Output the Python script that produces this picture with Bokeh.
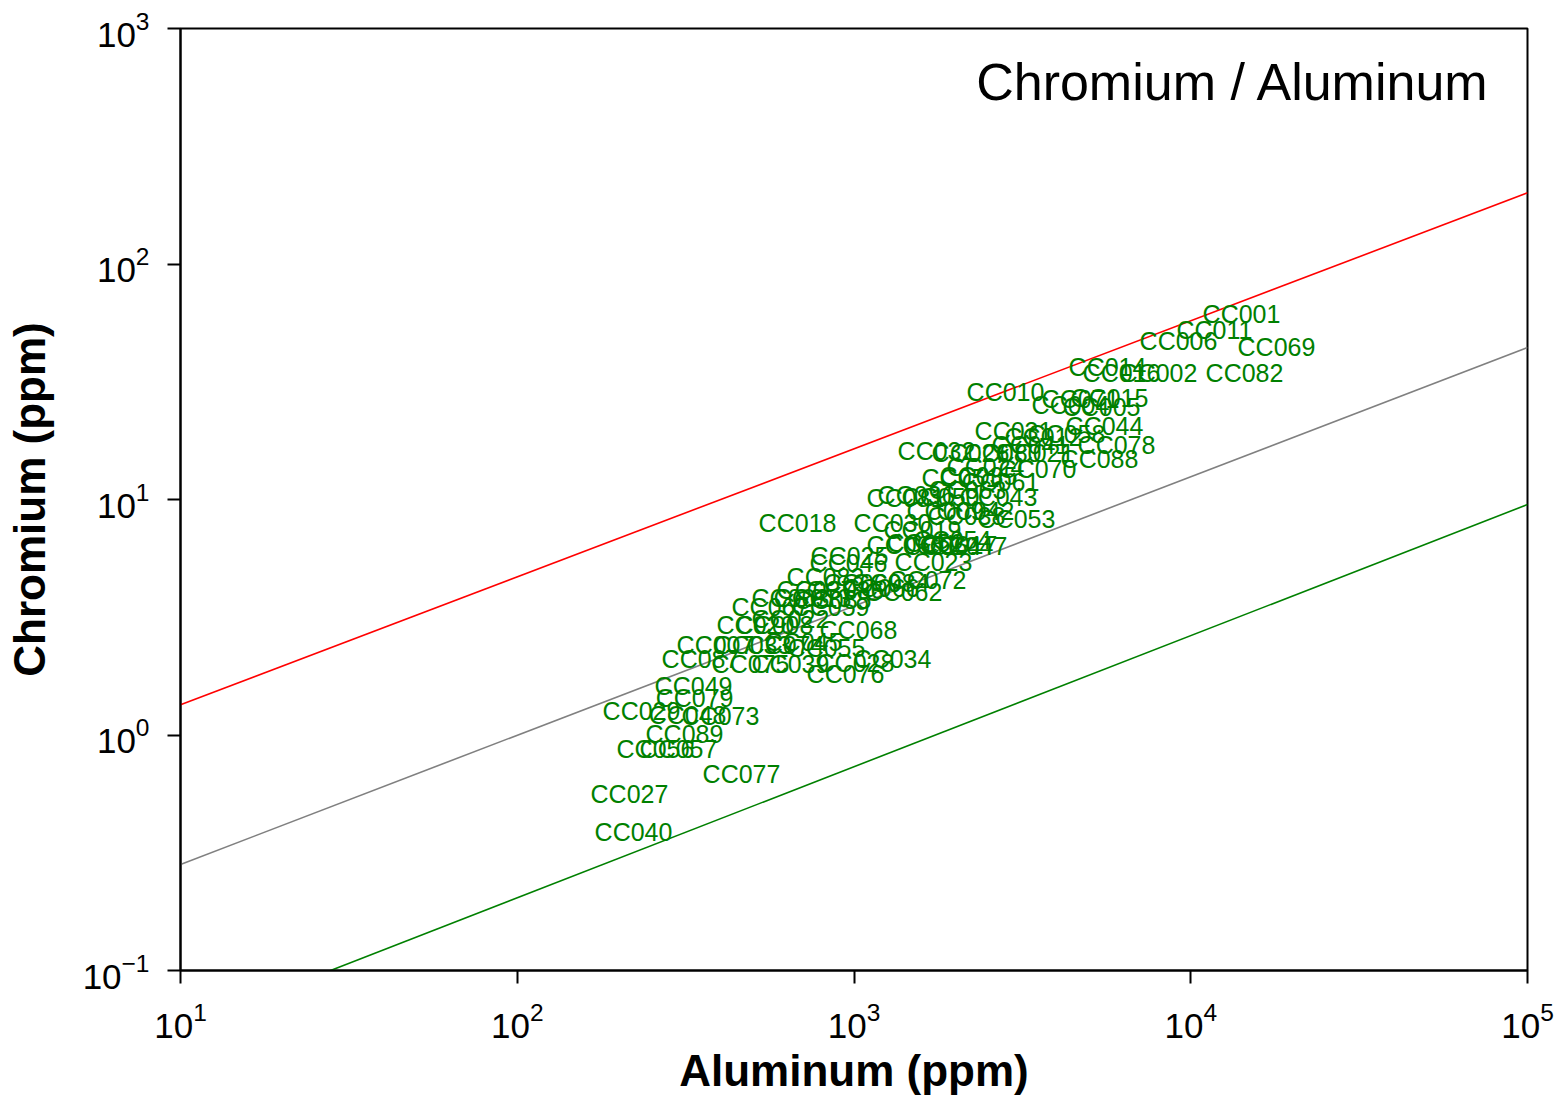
from bokeh.plotting import figure
from bokeh.models import ColumnDataSource, FixedTicker, LogTickFormatter, Label
from bokeh.embed import file_html
from bokeh.resources import INLINE
from bokeh.core.properties import value

# ---- data ----
SAMPLES = [
    "CC001", "CC011", "CC006", "CC069", "CC014", "CC016", "CC002", "CC082",
    "CC010", "CC015", "CC005", "CC004", "CC071", "CC044", "CC031", "CC012",
    "CC058", "CC078", "CC088", "CC032", "CC026", "CC080", "CC021", "CC070",
    "CC024", "CC061", "CC035", "CC036", "CC050", "CC043", "CC063", "CC018",
    "CC030", "CC019", "CC038", "CC053", "CC042", "CC009", "CC052", "CC064",
    "CC017", "CC047", "CC054", "CC025", "CC046", "CC023", "CC083", "CC060",
    "CC084", "CC072", "CC062", "CC066", "CC003", "CC013", "CC085", "CC059",
    "CC086", "CC020", "CC008", "CC022", "CC068", "CC007", "CC033", "CC074",
    "CC045", "CC055", "CC087", "CC075", "CC039", "CC028", "CC034", "CC076",
    "CC049", "CC079", "CC029", "CC048", "CC073", "CC089", "CC056", "CC057",
    "CC077", "CC027", "CC040", "CC037", "CC041", "CC067", "CC051", "CC065",
    "CC081",
]
ALUMINUM = [
    14150, 11760, 9196, 17970, 5659, 6229, 8021, 14440,
    2818, 5737, 5433, 4394, 4706, 5545, 2976, 3653,
    4276, 6019, 5358, 1758, 2218, 2761, 3459, 3507,
    2458, 2723, 2343, 1533, 1807, 2686, 2173, 679.7,
    1301, 1597, 2158, 3037, 2295, 1869, 1630, 1831,
    2043, 2188, 1961, 969.6, 963, 1722, 823, 1060,
    1284, 1653, 1403, 1199, 647.6, 753, 863.7, 851.9,
    943.6, 509.8, 580.5, 647.6, 1031, 387.9, 499.5, 626.0,
    707.9, 828.6, 350.1, 492.8, 647.6, 1010, 1301, 943.6,
    333.8, 336.1, 233.9, 320.4, 401.4, 313.7, 257.3, 301.2,
    463.4, 215.4, 221.4, 768.7, 3343, 564.9, 2071, 1422,
    1422,
]
CHROMIUM = [
    61.6, 52.2, 47.3, 44.6, 36.7, 34.6, 34.6, 34.6,
    28.7, 27.1, 24.8, 25.1, 26.6, 20.6, 19.6, 18.5,
    18.9, 16.96, 14.9, 16.0, 15.8, 15.8, 15.8, 13.5,
    13.8, 11.9, 12.6, 10.5, 10.2, 10.2, 11.0, 7.91,
    7.91, 7.39, 8.47, 8.23, 8.98, 8.98, 6.51, 6.32,
    6.44, 6.32, 6.76, 5.73, 5.35, 5.45, 4.67, 4.44,
    4.44, 4.53, 4.03, 4.19, 3.80, 3.80, 3.73, 3.51,
    4.11, 2.92, 2.92, 3.12, 2.78, 2.42, 2.40, 2.40,
    2.49, 2.35, 2.11, 2.01, 2.01, 2.03, 2.11, 1.82,
    1.61, 1.44, 1.27, 1.22, 1.21, 1.005, 0.868, 0.868,
    0.680, 0.559, 0.389, 4.11, 16.96, 3.51, 12.3, 6.38,
    10.1,
]

X_RANGE = (10, 1e5)
Y_RANGE = (0.1, 1e3)
X_TICKS = [10, 100, 1000, 10000, 100000]
Y_TICKS = [0.1, 1, 10, 100, 1000]

# reference lines
LINE_AL = [10, 1e5]
RED_CR = [1.343, 200.6]
GRAY_CR = [0.282, 44.2]
GREEN_AL = [27.9, 1e5]
GREEN_CR = [0.1, 9.52]

TITLE = "Chromium / Aluminum"
X_LABEL = "Aluminum (ppm)"
Y_LABEL = "Chromium (ppm)"

FONT = "Liberation Sans"

p = figure(
    x_axis_type="log", y_axis_type="log",
    x_range=X_RANGE, y_range=Y_RANGE,
    frame_width=1347, frame_height=942,
    min_border_left=180, min_border_right=36,
    min_border_top=28, min_border_bottom=127,
    output_backend="svg", toolbar_location=None,
    background_fill_color="white", border_fill_color="white",
)
p.xgrid.visible = False
p.ygrid.visible = False
p.outline_line_color = "black"
p.outline_line_width = 2
p.outline_line_alpha = 1.0

for ax, ticks in ((p.xaxis[0], X_TICKS), (p.yaxis[0], Y_TICKS)):
    ax.ticker = FixedTicker(ticks=ticks)
    ax.formatter = LogTickFormatter()
    ax.axis_line_color = "black"
    ax.axis_line_width = 2
    ax.major_tick_line_color = "black"
    ax.major_tick_line_width = 2
    ax.major_tick_out = 13
    ax.major_tick_in = 0
    ax.minor_tick_line_color = None
    ax.major_label_text_font = FONT
    ax.major_label_text_font_size = "35px"
    ax.major_label_text_color = "black"
    ax.major_label_standoff = 18
    ax.axis_label_text_font = FONT
    ax.axis_label_text_font_size = "44px"
    ax.axis_label_text_font_style = "bold"
    ax.axis_label_text_color = "black"

p.xaxis.axis_label = X_LABEL
p.yaxis.axis_label = Y_LABEL
p.xaxis.axis_label_standoff = 5
p.yaxis.axis_label_standoff = 26

p.line(LINE_AL, RED_CR, line_color="#ff0000", line_width=1.6)
p.line(LINE_AL, GRAY_CR, line_color="#808080", line_width=1.6)
p.line(GREEN_AL, GREEN_CR, line_color="#008000", line_width=1.6)

src = ColumnDataSource(data=dict(al=ALUMINUM, cr=CHROMIUM, name=SAMPLES))
p.text(x="al", y="cr", text="name", source=src,
       text_font=value(FONT), text_font_size="25px", text_color="#008000",
       text_align="center", text_baseline="middle")

title = Label(x=X_RANGE[1], y=Y_RANGE[1], x_offset=-37, y_offset=-53,
              text=TITLE, text_font=FONT, text_font_size="52px",
              text_color="black", text_align="right", text_baseline="alphabetic")
p.add_layout(title)

open("out.html", "w").write(file_html(p, INLINE))
